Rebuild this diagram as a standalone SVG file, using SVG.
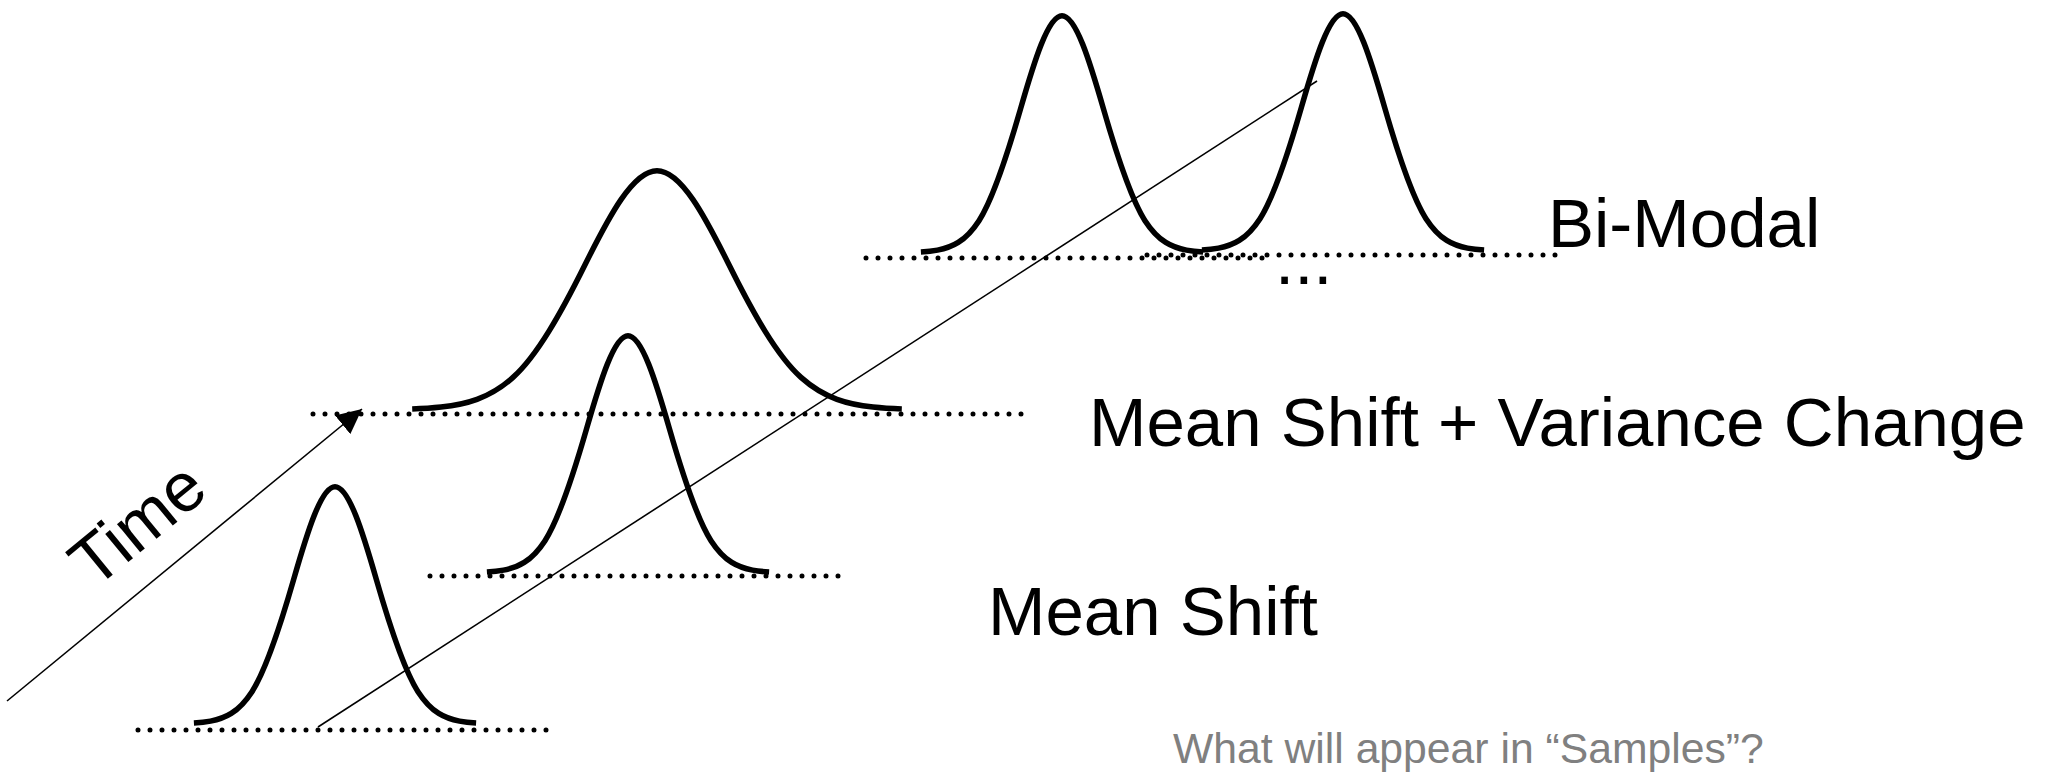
<svg xmlns="http://www.w3.org/2000/svg" width="2054" height="773" viewBox="0 0 2054 773">
  <style>
    .curve { fill: none; stroke: #000; stroke-width: 5.5; stroke-linecap: butt; stroke-linejoin: round; }
    .dots { fill: none; stroke: #000; stroke-width: 5; stroke-linecap: round; stroke-dasharray: 0 12; }
    .thin { fill: none; stroke: #000; stroke-width: 1.6; }
    .label { font-family: "Liberation Sans", Arial, sans-serif; font-size: 69px; fill: #000; }
    .question { font-family: "Liberation Sans", Arial, sans-serif; font-size: 42.7px; fill: #808080; }
  </style>
  <defs>
    <marker id="arrowhead" markerUnits="userSpaceOnUse" markerWidth="26" markerHeight="24" refX="25" refY="12" orient="auto">
      <path d="M0,0 L25,12 L0,24 Z" fill="#000"/>
    </marker>
  </defs>
  <rect width="2054" height="773" fill="#fff"/>

  <g id="connectors">
    <line id="time-axis" class="thin" x1="7" y1="701" x2="362" y2="409" stroke-width="2" marker-end="url(#arrowhead)"/>
    <line id="trend-line" class="thin" x1="318" y1="727" x2="1317" y2="81"/>
  </g>

  <g id="time-label">
    <text class="label" x="94" y="590" transform="rotate(-39.3 94 590)">Time</text>
  </g>

  <g id="dist-original">
    <line class="dots" x1="138" y1="730" x2="550" y2="730"/>
    <path class="curve" d="M193.9,723 c5.52,-0.33 11.08,-0.85 16.6,-1.9 c13.82,-2.63 27.68,-8.06 41.5,-29.44 c13.82,-21.38 27.68,-63.75 41.5,-111.67 c13.82,-47.92 27.68,-93.26 41.5,-93.26 c13.82,0 27.68,45.34 41.5,93.26 c13.82,47.92 27.68,90.3 41.5,111.67 c13.82,21.38 27.68,26.8 41.5,29.44 c5.52,1.04 11.08,1.56 16.6,1.9"/>
  </g>

  <g id="dist-mean-shift">
    <line class="dots" x1="430" y1="576" x2="842" y2="576"/>
    <path class="curve" d="M486.9,572 c5.52,-0.33 11.08,-0.85 16.6,-1.9 c13.82,-2.63 27.68,-8.06 41.5,-29.44 c13.82,-21.38 27.68,-63.75 41.5,-111.67 c13.82,-47.92 27.68,-93.26 41.5,-93.26 c13.82,0 27.68,45.34 41.5,93.26 c13.82,47.92 27.68,90.3 41.5,111.67 c13.82,21.38 27.68,26.8 41.5,29.44 c5.52,1.04 11.08,1.56 16.6,1.9"/>
    <text class="label" x="988" y="635">Mean Shift</text>
  </g>

  <g id="dist-variance-change">
    <line class="dots" x1="313" y1="414" x2="1024" y2="414"/>
    <path class="curve" d="M412.2,409 c9.6,-0.33 19.2,-0.86 28.8,-1.91 c24,-2.65 48,-8.13 72,-29.68 c24,-21.56 48,-64.29 72,-112.62 c24,-48.33 48,-94.05 72,-94.05 c24,0 48,45.72 72,94.05 c24,48.33 48,91.06 72,112.62 c24,21.56 48,27.03 72,29.68 c9.6,1.05 19.2,1.58 28.8,1.91"/>
    <text class="label" x="1089" y="446" font-size="71">Mean Shift + Variance Change</text>
  </g>

  <g id="dist-bimodal">
    <line class="dots" x1="866" y1="258" x2="1274" y2="258"/>
    <line class="dots" x1="1147" y1="255" x2="1559" y2="255"/>
    <path class="curve" d="M920.9,252 c5.52,-0.33 11.08,-0.85 16.6,-1.9 c13.82,-2.63 27.68,-8.06 41.5,-29.44 c13.82,-21.38 27.68,-63.75 41.5,-111.67 c13.82,-47.92 27.68,-93.26 41.5,-93.26 c13.82,0 27.68,45.34 41.5,93.26 c13.82,47.92 27.68,90.3 41.5,111.67 c13.82,21.38 27.68,26.8 41.5,29.44 c5.52,1.04 11.08,1.56 16.6,1.9"/>
    <path class="curve" d="M1201.9,250 c5.52,-0.33 11.08,-0.85 16.6,-1.9 c13.82,-2.63 27.68,-8.06 41.5,-29.44 c13.82,-21.38 27.68,-63.75 41.5,-111.67 c13.82,-47.92 27.68,-93.26 41.5,-93.26 c13.82,0 27.68,45.34 41.5,93.26 c13.82,47.92 27.68,90.3 41.5,111.67 c13.82,21.38 27.68,26.8 41.5,29.44 c5.52,1.04 11.08,1.56 16.6,1.9"/>
    <text class="label" x="1548" y="247">Bi-Modal</text>
    <text class="label" x="1275" y="284">...</text>
  </g>

  <g id="question">
    <text class="question" x="1173" y="763">What will appear in “Samples”?</text>
  </g>
</svg>
